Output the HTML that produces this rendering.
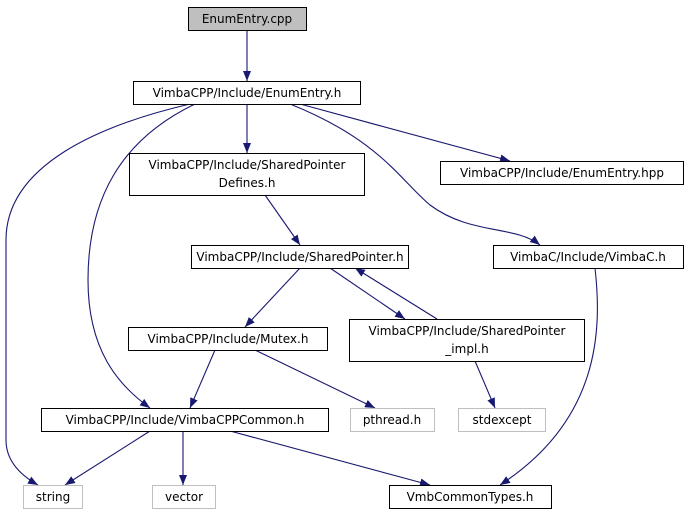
<!DOCTYPE html>
<html><head><meta charset="utf-8"><style>
html,body{margin:0;padding:0;background:#fff;}
svg{display:block;}
text{font-family:"DejaVu Sans","Liberation Sans",sans-serif;font-size:12px;fill:#000;}
</style></head><body>
<svg width="690" height="515" viewBox="0 0 690 515" xmlns="http://www.w3.org/2000/svg">
<defs>
<marker id="a" viewBox="0 0 10 8" refX="10" refY="4" markerWidth="10" markerHeight="8" markerUnits="userSpaceOnUse" orient="auto">
<path d="M0,0 L10,4 L0,8 z" fill="#191970"/>
</marker>
</defs>
<g fill="none" stroke="#191970" stroke-width="1.1" marker-end="url(#a)">
<path d="M247,30 L247,81"/>
<path d="M190,104 C100,125 6,165 6,240 L6,440 C6,462 22,476 38,485"/>
<path d="M195,104 C120,140 88,200 88,280 C88,350 118,385 150,408"/>
<path d="M247,104 L247,153"/>
<path d="M300,104 L510,161"/>
<path d="M290,104 C380,140 400,180 430,205 C470,235 515,225 540,245"/>
<path d="M265,195 L300,245"/>
<path d="M300,268 L245,327"/>
<path d="M330,268 L405,319"/>
<path d="M437,319 L355,268"/>
<path d="M215,350 L190,408"/>
<path d="M255,350 L375,408"/>
<path d="M475,361 L495,408"/>
<path d="M150,431 L65,485"/>
<path d="M183,431 L183,485"/>
<path d="M230,431 L430,485"/>
<path d="M595,268 C602,330 600,420 500,485"/>
</g>
<g stroke-width="1">
<rect x="188.5" y="7.5" width="118" height="23" fill="#bfbfbf" stroke="#000"/>
<rect x="133.5" y="81.5" width="227" height="23" fill="#fff" stroke="#000"/>
<rect x="129.5" y="153.5" width="235" height="42" fill="#fff" stroke="#000"/>
<rect x="440.5" y="161.5" width="243" height="23" fill="#fff" stroke="#000"/>
<rect x="191.5" y="245.5" width="217" height="23" fill="#fff" stroke="#000"/>
<rect x="493.5" y="245.5" width="190" height="23" fill="#fff" stroke="#000"/>
<rect x="128.5" y="327.5" width="199" height="23" fill="#fff" stroke="#000"/>
<rect x="349.5" y="319.5" width="235" height="42" fill="#fff" stroke="#000"/>
<rect x="41.5" y="408.5" width="287" height="23" fill="#fff" stroke="#000"/>
<rect x="350.5" y="408.5" width="84" height="23" fill="#fff" stroke="#bfbfbf"/>
<rect x="458.5" y="408.5" width="87" height="23" fill="#fff" stroke="#bfbfbf"/>
<rect x="23.5" y="485.5" width="59" height="23" fill="#fff" stroke="#bfbfbf"/>
<rect x="152.5" y="485.5" width="63" height="23" fill="#fff" stroke="#bfbfbf"/>
<rect x="389.5" y="485.5" width="162" height="23" fill="#fff" stroke="#000"/>
</g>
<g text-anchor="middle">
<text x="247" y="23">EnumEntry.cpp</text>
<text x="247" y="97">VimbaCPP/Include/EnumEntry.h</text>
<text x="247" y="169">VimbaCPP/Include/SharedPointer</text>
<text x="247" y="187">Defines.h</text>
<text x="562" y="177">VimbaCPP/Include/EnumEntry.hpp</text>
<text x="300" y="261">VimbaCPP/Include/SharedPointer.h</text>
<text x="588" y="261">VimbaC/Include/VimbaC.h</text>
<text x="228" y="343">VimbaCPP/Include/Mutex.h</text>
<text x="467" y="335">VimbaCPP/Include/SharedPointer</text>
<text x="467" y="353">_impl.h</text>
<text x="185" y="424">VimbaCPP/Include/VimbaCPPCommon.h</text>
<text x="392" y="424">pthread.h</text>
<text x="502" y="424">stdexcept</text>
<text x="53" y="501">string</text>
<text x="184" y="501">vector</text>
<text x="470" y="501">VmbCommonTypes.h</text>
</g>
</svg>
</body></html>
